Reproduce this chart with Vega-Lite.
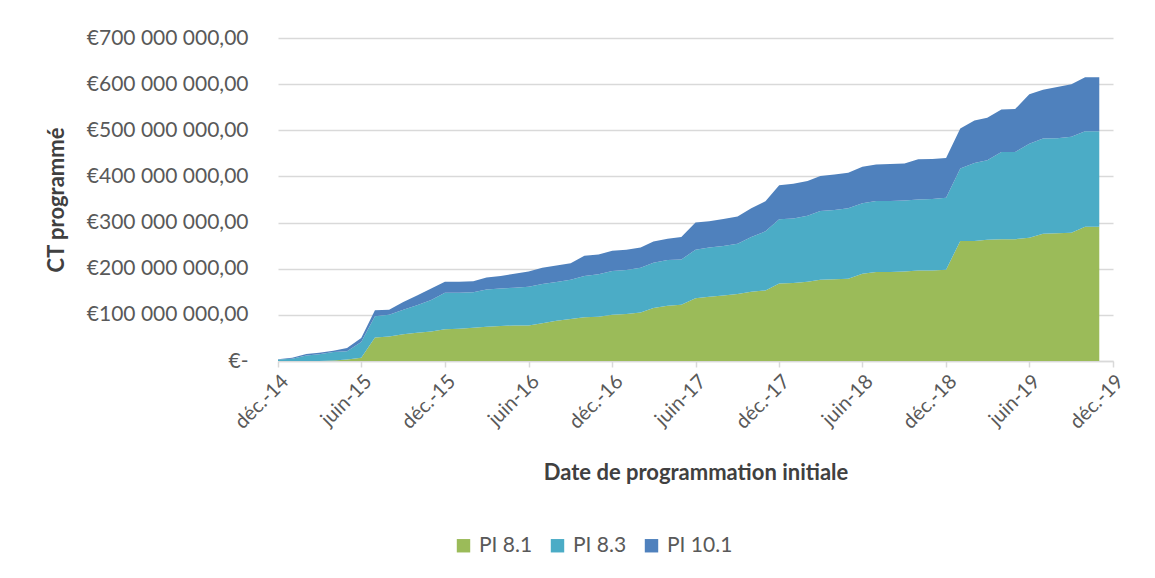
{
  "$schema": "https://vega.github.io/schema/vega-lite/v6.json",
  "width": 835,
  "height": 323,
  "autosize": {"type": "none"},
  "padding": {"left": 278, "top": 38, "right": 42, "bottom": 217},
  "background": "white",
  "config": {"view": {"stroke": null}, "font": "Lato"},
  "data": {"values": [
    {"mois":"2014-12-01","serie":"PI 8.1","montant":0},{"mois":"2014-12-01","serie":"PI 8.3","montant":3000000},{"mois":"2014-12-01","serie":"PI 10.1","montant":1000000},
    {"mois":"2015-01-01","serie":"PI 8.1","montant":0},{"mois":"2015-01-01","serie":"PI 8.3","montant":5000000},{"mois":"2015-01-01","serie":"PI 10.1","montant":2000000},
    {"mois":"2015-02-01","serie":"PI 8.1","montant":0},{"mois":"2015-02-01","serie":"PI 8.3","montant":12000000},{"mois":"2015-02-01","serie":"PI 10.1","montant":3000000},
    {"mois":"2015-03-01","serie":"PI 8.1","montant":0},{"mois":"2015-03-01","serie":"PI 8.3","montant":14500000},{"mois":"2015-03-01","serie":"PI 10.1","montant":3500000},
    {"mois":"2015-04-01","serie":"PI 8.1","montant":1000000},{"mois":"2015-04-01","serie":"PI 8.3","montant":18500000},{"mois":"2015-04-01","serie":"PI 10.1","montant":2500000},
    {"mois":"2015-05-01","serie":"PI 8.1","montant":3000000},{"mois":"2015-05-01","serie":"PI 8.3","montant":18000000},{"mois":"2015-05-01","serie":"PI 10.1","montant":7000000},
    {"mois":"2015-06-01","serie":"PI 8.1","montant":7000000},{"mois":"2015-06-01","serie":"PI 8.3","montant":34000000},{"mois":"2015-06-01","serie":"PI 10.1","montant":9000000},
    {"mois":"2015-07-01","serie":"PI 8.1","montant":51000000},{"mois":"2015-07-01","serie":"PI 8.3","montant":46000000},{"mois":"2015-07-01","serie":"PI 10.1","montant":13000000},
    {"mois":"2015-08-01","serie":"PI 8.1","montant":53000000},{"mois":"2015-08-01","serie":"PI 8.3","montant":47000000},{"mois":"2015-08-01","serie":"PI 10.1","montant":11000000},
    {"mois":"2015-09-01","serie":"PI 8.1","montant":58000000},{"mois":"2015-09-01","serie":"PI 8.3","montant":53000000},{"mois":"2015-09-01","serie":"PI 10.1","montant":17000000},
    {"mois":"2015-10-01","serie":"PI 8.1","montant":61000000},{"mois":"2015-10-01","serie":"PI 8.3","montant":60000000},{"mois":"2015-10-01","serie":"PI 10.1","montant":21000000},
    {"mois":"2015-11-01","serie":"PI 8.1","montant":64000000},{"mois":"2015-11-01","serie":"PI 8.3","montant":68000000},{"mois":"2015-11-01","serie":"PI 10.1","montant":25000000},
    {"mois":"2015-12-01","serie":"PI 8.1","montant":69000000},{"mois":"2015-12-01","serie":"PI 8.3","montant":79000000},{"mois":"2015-12-01","serie":"PI 10.1","montant":24000000},
    {"mois":"2016-01-01","serie":"PI 8.1","montant":70000000},{"mois":"2016-01-01","serie":"PI 8.3","montant":78000000},{"mois":"2016-01-01","serie":"PI 10.1","montant":24000000},
    {"mois":"2016-02-01","serie":"PI 8.1","montant":72000000},{"mois":"2016-02-01","serie":"PI 8.3","montant":77000000},{"mois":"2016-02-01","serie":"PI 10.1","montant":24000000},
    {"mois":"2016-03-01","serie":"PI 8.1","montant":74000000},{"mois":"2016-03-01","serie":"PI 8.3","montant":81000000},{"mois":"2016-03-01","serie":"PI 10.1","montant":26000000},
    {"mois":"2016-04-01","serie":"PI 8.1","montant":76000000},{"mois":"2016-04-01","serie":"PI 8.3","montant":81000000},{"mois":"2016-04-01","serie":"PI 10.1","montant":27000000},
    {"mois":"2016-05-01","serie":"PI 8.1","montant":77000000},{"mois":"2016-05-01","serie":"PI 8.3","montant":82000000},{"mois":"2016-05-01","serie":"PI 10.1","montant":30000000},
    {"mois":"2016-06-01","serie":"PI 8.1","montant":77000000},{"mois":"2016-06-01","serie":"PI 8.3","montant":84000000},{"mois":"2016-06-01","serie":"PI 10.1","montant":33000000},
    {"mois":"2016-07-01","serie":"PI 8.1","montant":82000000},{"mois":"2016-07-01","serie":"PI 8.3","montant":85000000},{"mois":"2016-07-01","serie":"PI 10.1","montant":35000000},
    {"mois":"2016-08-01","serie":"PI 8.1","montant":87000000},{"mois":"2016-08-01","serie":"PI 8.3","montant":84000000},{"mois":"2016-08-01","serie":"PI 10.1","montant":36000000},
    {"mois":"2016-09-01","serie":"PI 8.1","montant":91000000},{"mois":"2016-09-01","serie":"PI 8.3","montant":85000000},{"mois":"2016-09-01","serie":"PI 10.1","montant":36000000},
    {"mois":"2016-10-01","serie":"PI 8.1","montant":95000000},{"mois":"2016-10-01","serie":"PI 8.3","montant":89000000},{"mois":"2016-10-01","serie":"PI 10.1","montant":44000000},
    {"mois":"2016-11-01","serie":"PI 8.1","montant":96000000},{"mois":"2016-11-01","serie":"PI 8.3","montant":92000000},{"mois":"2016-11-01","serie":"PI 10.1","montant":43000000},
    {"mois":"2016-12-01","serie":"PI 8.1","montant":100000000},{"mois":"2016-12-01","serie":"PI 8.3","montant":95000000},{"mois":"2016-12-01","serie":"PI 10.1","montant":44000000},
    {"mois":"2017-01-01","serie":"PI 8.1","montant":102000000},{"mois":"2017-01-01","serie":"PI 8.3","montant":95000000},{"mois":"2017-01-01","serie":"PI 10.1","montant":44000000},
    {"mois":"2017-02-01","serie":"PI 8.1","montant":105000000},{"mois":"2017-02-01","serie":"PI 8.3","montant":97000000},{"mois":"2017-02-01","serie":"PI 10.1","montant":44000000},
    {"mois":"2017-03-01","serie":"PI 8.1","montant":115000000},{"mois":"2017-03-01","serie":"PI 8.3","montant":98000000},{"mois":"2017-03-01","serie":"PI 10.1","montant":46000000},
    {"mois":"2017-04-01","serie":"PI 8.1","montant":120000000},{"mois":"2017-04-01","serie":"PI 8.3","montant":99000000},{"mois":"2017-04-01","serie":"PI 10.1","montant":46000000},
    {"mois":"2017-05-01","serie":"PI 8.1","montant":122000000},{"mois":"2017-05-01","serie":"PI 8.3","montant":98000000},{"mois":"2017-05-01","serie":"PI 10.1","montant":49000000},
    {"mois":"2017-06-01","serie":"PI 8.1","montant":136000000},{"mois":"2017-06-01","serie":"PI 8.3","montant":105000000},{"mois":"2017-06-01","serie":"PI 10.1","montant":59000000},
    {"mois":"2017-07-01","serie":"PI 8.1","montant":139000000},{"mois":"2017-07-01","serie":"PI 8.3","montant":107000000},{"mois":"2017-07-01","serie":"PI 10.1","montant":57000000},
    {"mois":"2017-08-01","serie":"PI 8.1","montant":142000000},{"mois":"2017-08-01","serie":"PI 8.3","montant":107000000},{"mois":"2017-08-01","serie":"PI 10.1","montant":59000000},
    {"mois":"2017-09-01","serie":"PI 8.1","montant":145000000},{"mois":"2017-09-01","serie":"PI 8.3","montant":109000000},{"mois":"2017-09-01","serie":"PI 10.1","montant":59000000},
    {"mois":"2017-10-01","serie":"PI 8.1","montant":150000000},{"mois":"2017-10-01","serie":"PI 8.3","montant":119000000},{"mois":"2017-10-01","serie":"PI 10.1","montant":62000000},
    {"mois":"2017-11-01","serie":"PI 8.1","montant":153000000},{"mois":"2017-11-01","serie":"PI 8.3","montant":128000000},{"mois":"2017-11-01","serie":"PI 10.1","montant":65000000},
    {"mois":"2017-12-01","serie":"PI 8.1","montant":168000000},{"mois":"2017-12-01","serie":"PI 8.3","montant":139000000},{"mois":"2017-12-01","serie":"PI 10.1","montant":74000000},
    {"mois":"2018-01-01","serie":"PI 8.1","montant":169000000},{"mois":"2018-01-01","serie":"PI 8.3","montant":140000000},{"mois":"2018-01-01","serie":"PI 10.1","montant":75000000},
    {"mois":"2018-02-01","serie":"PI 8.1","montant":172000000},{"mois":"2018-02-01","serie":"PI 8.3","montant":143000000},{"mois":"2018-02-01","serie":"PI 10.1","montant":75000000},
    {"mois":"2018-03-01","serie":"PI 8.1","montant":176000000},{"mois":"2018-03-01","serie":"PI 8.3","montant":149000000},{"mois":"2018-03-01","serie":"PI 10.1","montant":76000000},
    {"mois":"2018-04-01","serie":"PI 8.1","montant":177000000},{"mois":"2018-04-01","serie":"PI 8.3","montant":150000000},{"mois":"2018-04-01","serie":"PI 10.1","montant":77000000},
    {"mois":"2018-05-01","serie":"PI 8.1","montant":178000000},{"mois":"2018-05-01","serie":"PI 8.3","montant":153000000},{"mois":"2018-05-01","serie":"PI 10.1","montant":77000000},
    {"mois":"2018-06-01","serie":"PI 8.1","montant":189000000},{"mois":"2018-06-01","serie":"PI 8.3","montant":153000000},{"mois":"2018-06-01","serie":"PI 10.1","montant":79000000},
    {"mois":"2018-07-01","serie":"PI 8.1","montant":193000000},{"mois":"2018-07-01","serie":"PI 8.3","montant":154000000},{"mois":"2018-07-01","serie":"PI 10.1","montant":79000000},
    {"mois":"2018-08-01","serie":"PI 8.1","montant":193000000},{"mois":"2018-08-01","serie":"PI 8.3","montant":154000000},{"mois":"2018-08-01","serie":"PI 10.1","montant":80000000},
    {"mois":"2018-09-01","serie":"PI 8.1","montant":194000000},{"mois":"2018-09-01","serie":"PI 8.3","montant":154000000},{"mois":"2018-09-01","serie":"PI 10.1","montant":80000000},
    {"mois":"2018-10-01","serie":"PI 8.1","montant":196000000},{"mois":"2018-10-01","serie":"PI 8.3","montant":154000000},{"mois":"2018-10-01","serie":"PI 10.1","montant":87000000},
    {"mois":"2018-11-01","serie":"PI 8.1","montant":196000000},{"mois":"2018-11-01","serie":"PI 8.3","montant":155000000},{"mois":"2018-11-01","serie":"PI 10.1","montant":87000000},
    {"mois":"2018-12-01","serie":"PI 8.1","montant":198000000},{"mois":"2018-12-01","serie":"PI 8.3","montant":156000000},{"mois":"2018-12-01","serie":"PI 10.1","montant":86000000},
    {"mois":"2019-01-01","serie":"PI 8.1","montant":260000000},{"mois":"2019-01-01","serie":"PI 8.3","montant":157000000},{"mois":"2019-01-01","serie":"PI 10.1","montant":87000000},
    {"mois":"2019-02-01","serie":"PI 8.1","montant":260000000},{"mois":"2019-02-01","serie":"PI 8.3","montant":169000000},{"mois":"2019-02-01","serie":"PI 10.1","montant":92000000},
    {"mois":"2019-03-01","serie":"PI 8.1","montant":263000000},{"mois":"2019-03-01","serie":"PI 8.3","montant":172000000},{"mois":"2019-03-01","serie":"PI 10.1","montant":92000000},
    {"mois":"2019-04-01","serie":"PI 8.1","montant":264000000},{"mois":"2019-04-01","serie":"PI 8.3","montant":189000000},{"mois":"2019-04-01","serie":"PI 10.1","montant":92000000},
    {"mois":"2019-05-01","serie":"PI 8.1","montant":264000000},{"mois":"2019-05-01","serie":"PI 8.3","montant":189000000},{"mois":"2019-05-01","serie":"PI 10.1","montant":93000000},
    {"mois":"2019-06-01","serie":"PI 8.1","montant":267000000},{"mois":"2019-06-01","serie":"PI 8.3","montant":204000000},{"mois":"2019-06-01","serie":"PI 10.1","montant":107000000},
    {"mois":"2019-07-01","serie":"PI 8.1","montant":276000000},{"mois":"2019-07-01","serie":"PI 8.3","montant":206000000},{"mois":"2019-07-01","serie":"PI 10.1","montant":106000000},
    {"mois":"2019-08-01","serie":"PI 8.1","montant":277000000},{"mois":"2019-08-01","serie":"PI 8.3","montant":206000000},{"mois":"2019-08-01","serie":"PI 10.1","montant":111000000},
    {"mois":"2019-09-01","serie":"PI 8.1","montant":278000000},{"mois":"2019-09-01","serie":"PI 8.3","montant":208000000},{"mois":"2019-09-01","serie":"PI 10.1","montant":114000000},
    {"mois":"2019-10-01","serie":"PI 8.1","montant":291000000},{"mois":"2019-10-01","serie":"PI 8.3","montant":207000000},{"mois":"2019-10-01","serie":"PI 10.1","montant":117000000},
    {"mois":"2019-11-01","serie":"PI 8.1","montant":291000000},{"mois":"2019-11-01","serie":"PI 8.3","montant":207000000},{"mois":"2019-11-01","serie":"PI 10.1","montant":117000000}
  ]},
  "transform": [
    {"calculate": "indexof(['PI 8.1', 'PI 8.3', 'PI 10.1'], datum.serie)", "as": "rang"}
  ],
  "mark": {"type": "area", "interpolate": "linear"},
  "encoding": {
    "x": {
      "field": "mois", "type": "temporal",
      "scale": {"type": "utc", "domain": [{"year": 2014, "month": 12, "date": 1, "utc": true}, {"year": 2019, "month": 12, "date": 1, "utc": true}]},
      "axis": {
        "values": [
          {"year": 2014, "month": 12, "date": 1, "utc": true},
          {"year": 2015, "month": 6, "date": 1, "utc": true},
          {"year": 2015, "month": 12, "date": 1, "utc": true},
          {"year": 2016, "month": 6, "date": 1, "utc": true},
          {"year": 2016, "month": 12, "date": 1, "utc": true},
          {"year": 2017, "month": 6, "date": 1, "utc": true},
          {"year": 2017, "month": 12, "date": 1, "utc": true},
          {"year": 2018, "month": 6, "date": 1, "utc": true},
          {"year": 2018, "month": 12, "date": 1, "utc": true},
          {"year": 2019, "month": 6, "date": 1, "utc": true},
          {"year": 2019, "month": 12, "date": 1, "utc": true}
        ],
        "labelExpr": "(utcmonth(datum.value) == 11 ? 'déc.-' : 'juin-') + utcFormat(datum.value, '%y')",
        "labelAngle": -45,
        "labelFontSize": 20,
        "labelColor": "#595959",
        "labelPadding": 4,
        "labelOverlap": false,
        "labelFlush": false,
        "grid": false,
        "domainColor": "#D9D9D9",
        "domainWidth": 1.5,
        "tickColor": "#D9D9D9",
        "tickWidth": 1.5,
        "tickSize": 6,
        "title": "Date de programmation initiale",
        "titleFontSize": 22,
        "titleFontWeight": "bold",
        "titleColor": "#404040",
        "titlePadding": 30
      }
    },
    "y": {
      "field": "montant", "type": "quantitative", "stack": "zero",
      "scale": {"domain": [0, 700000000], "nice": false},
      "axis": {
        "values": [0, 100000000, 200000000, 300000000, 400000000, 500000000, 600000000, 700000000],
        "labelExpr": "datum.value == 0 ? '€-\u00a0\u00a0\u00a0' : '€' + (datum.value / 1000000) + ' 000 000,00'",
        "labelFontSize": 21,
        "labelColor": "#595959",
        "labelPadding": 30,
        "domain": false,
        "ticks": false,
        "grid": true,
        "gridColor": "#D9D9D9",
        "gridWidth": 1.5,
        "title": "CT programmé",
        "titleFontSize": 22,
        "titleFontWeight": "bold",
        "titleColor": "#404040",
        "titlePadding": 18
      }
    },
    "order": {"field": "rang", "type": "quantitative", "sort": "ascending"},
    "color": {
      "field": "serie", "type": "nominal",
      "sort": ["PI 8.1", "PI 8.3", "PI 10.1"],
      "scale": {"domain": ["PI 8.1", "PI 8.3", "PI 10.1"], "range": ["#9BBB59", "#4BACC6", "#4F81BD"]},
      "legend": {
        "orient": "none",
        "legendX": 175,
        "legendY": 497,
        "direction": "horizontal",
        "title": null,
        "symbolType": "square",
        "symbolSize": 180,
        "symbolStrokeWidth": 0,
        "symbolOpacity": 1,
        "labelFontSize": 21,
        "labelColor": "#595959",
        "labelOffset": 5,
        "columnPadding": 14
      }
    }
  }
}
